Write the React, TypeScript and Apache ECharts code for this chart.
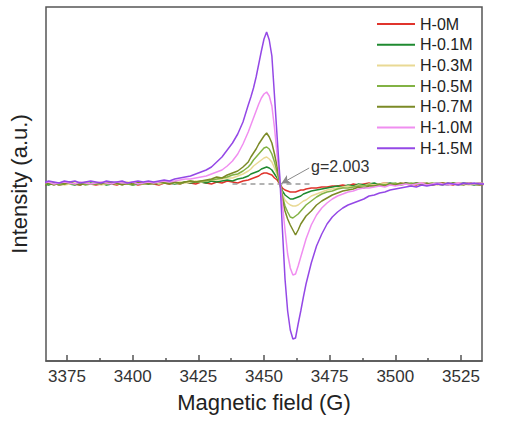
import React, { useEffect, useRef } from "react";
import * as echarts from "echarts";

// Magnetic field grid (G)
const field = [
  3366, 3368, 3370, 3372, 3374, 3376, 3378, 3380, 3382, 3384,
  3386, 3388, 3390, 3392, 3394, 3396, 3398, 3400, 3402, 3404,
  3406, 3408, 3410, 3412, 3414, 3416, 3418, 3420, 3422, 3424,
  3426, 3428, 3430, 3432, 3434, 3436, 3438, 3440, 3442, 3444,
  3445, 3446, 3447, 3448, 3449, 3450, 3451, 3452, 3453, 3454,
  3455, 3456, 3457, 3458, 3459, 3460, 3461, 3462, 3463, 3464,
  3465, 3466,
  3468, 3470, 3472, 3474, 3476, 3478, 3480, 3482, 3484, 3486,
  3488, 3490, 3492, 3494, 3496, 3498, 3500, 3502, 3504, 3506,
  3508, 3510, 3512, 3514, 3516, 3518, 3520, 3522, 3524, 3526,
  3528, 3530, 3532, 3534,
];

const h0M = [
  -1, 0, 1, -1, 0, 1, 0, -1, 1, 0,
  -1, 0, 1, 0, -1, 1, 0, 1, -1, 0,
  1, 0, -1, 1, 0, 1, 0, 2, 1, 0,
  2, 1, 0, 2, 1, 3, 2, 1, 3, 4,
  5, 6, 7, 8, 10, 11, 11, 10, 9, 6,
  4, 0, -4, -6, -7, -8, -8, -8, -7, -6,
  -6, -5,
  -4, -4, -3, -3, -2, -2, -1, -2, 0, -1,
  0, 1, -1, 0, 1, 0, -1, 0, 1, 0,
  -1, 1, 0, -1, 0, 1, 0, -1, 1, 0,
  1, 0, -1, 0,
];

const h01M = [
  0, -1, 1, 0, 1, 0, -1, 1, 0, 1,
  0, 1, -1, 0, 1, 0, 1, -1, 0, 1,
  0, 1, 0, 2, 1, 0, 1, 2, 1, 2,
  2, 1, 3, 2, 3, 4, 3, 5, 6, 8,
  10, 11, 12, 13, 15, 16, 17, 16, 14, 10,
  6, 1, -7, -11, -13, -15, -15, -14, -13, -12,
  -10, -9,
  -7, -6, -5, -4, -3, -2, -3, -1, -2, 0,
  -1, 0, 1, -1, 0, 1, 0, -1, 1, 0,
  1, 0, -1, 0, 1, 0, -1, 1, 0, 1,
  0, -1, 0, 0,
];

const h03M = [
  0, 1, 0, 1, -1, 0, 1, 0, 2, 0,
  1, -1, 0, 1, 0, 1, 2, 0, 1, 0,
  1, 2, 0, 1, 2, 1, 2, 1, 2, 3,
  2, 3, 4, 4, 5, 6, 6, 8, 10, 13,
  15, 18, 20, 22, 24, 26, 27, 25, 22, 16,
  9, 1, -10, -16, -19, -21, -22, -22, -21, -19,
  -17, -16,
  -12, -10, -8, -6, -5, -4, -3, -2, -3, -1,
  -2, 0, -1, 0, 1, -1, 0, 1, 0, -1,
  0, 1, 0, 1, -1, 0, 1, 0, 1, 0,
  -1, 0, 1, 0,
];

const h05M = [
  1, 0, 1, -1, 0, 1, 0, 1, -1, 0,
  0, 1, 0, 2, 0, 1, 0, -1, 1, 0,
  1, 0, 2, 1, 1, 2, 0, 2, 3, 2,
  3, 3, 4, 5, 6, 7, 9, 10, 13, 17,
  20, 24, 27, 30, 33, 36, 37, 35, 30, 22,
  12, 1, -12, -22, -28, -33, -34, -32, -30, -27,
  -24, -21,
  -17, -13, -10, -8, -7, -5, -4, -4, -3, -2,
  -2, -1, -2, 0, -1, 0, 1, -1, 0, 1,
  0, -1, 0, 1, 0, -1, 1, 0, -1, 0,
  1, 0, -1, 0,
];

const h07M = [
  0, 1, -1, 1, 0, 2, 0, -1, 1, 0,
  1, 0, 2, 0, 1, -1, 1, 0, 2, 1,
  0, 1, 2, 1, 0, 2, 1, 2, 3, 2,
  3, 4, 5, 7, 6, 9, 11, 13, 17, 22,
  27, 31, 35, 40, 44, 48, 51, 47, 41, 30,
  17, 2, -15, -27, -35, -41, -46, -51, -46, -40,
  -36, -32,
  -27, -21, -17, -14, -11, -9, -7, -6, -5, -3,
  -4, -2, -2, -1, -2, 0, -1, 1, 0, -1,
  1, 0, 1, -1, 0, 1, 0, 1, 0, -1,
  1, 0, 1, 0,
];

const h10M = [
  1, 2, 0, 1, 2, 1, 0, 2, 1, 0,
  1, 2, 1, 0, 2, 1, 1, 2, 0, 1,
  2, 1, 2, 3, 2, 3, 4, 5, 5, 6,
  7, 8, 10, 12, 14, 18, 23, 30, 40, 52,
  59, 66, 73, 80, 86, 90, 92, 88, 78, 56,
  29, 4, -20, -46, -70, -84, -91, -90, -82, -73,
  -64, -55,
  -41, -31, -24, -19, -15, -12, -10, -8, -7, -5,
  -4, -4, -3, -2, -3, -1, -2, -1, 0, -1,
  0, 1, -1, 0, 1, 0, -1, 0, 1, 0,
  1, 0, 1, 0,
];

const h15M = [
  1, 3, 2, 1, 3, 2, 3, 1, 2, 3,
  2, 1, 3, 2, 2, 3, 1, 2, 3, 2,
  3, 2, 3, 4, 3, 5, 6, 7, 8, 10,
  12, 14, 17, 22, 27, 34, 41, 50, 62, 79,
  87, 96, 107, 120, 133, 145, 152, 144, 128, 88,
  47, 8, -45, -95, -127, -146, -155, -154, -140, -127,
  -113, -100,
  -79, -62, -50, -40, -33, -28, -24, -21, -19, -17,
  -15, -12, -11, -9, -8, -6, -5, -4, -3, -2,
  -3, -1, -2, -1, 0, -1, 1, 0, -1, 1,
  0, 1, 0, 0,
];

const seriesNames = ["H-0M", "H-0.1M", "H-0.3M", "H-0.5M", "H-0.7M", "H-1.0M", "H-1.5M"];
const seriesValues = [h0M, h01M, h03M, h05M, h07M, h10M, h15M];
const seriesColors = ["#e0342c", "#1f8a30", "#e9d994", "#82b244", "#7b8a26", "#f08ef0", "#9448e6"];

const majorTicks = [3375, 3400, 3425, 3450, 3475, 3500, 3525];
const minorTicks = [3387.5, 3412.5, 3437.5, 3462.5, 3487.5, 3512.5];

// annotation (data coordinates)
const baselineDash = [[3438, 0], [3468, 0]];
const gArrow = [[3467.2, 16], [3456.6, 0.5]];
const gLabel = "g=2.003";

const FONT = "'Liberation Sans', Arial, sans-serif";

export default function App() {
  const ref = useRef<HTMLDivElement>(null);
  useEffect(() => {
    if (!ref.current) return;
    const chart = echarts.init(ref.current, undefined, { renderer: "svg" });
    const series: any[] = seriesNames.map((name, i) => ({
      name,
      type: "line",
      data: field.map((f, k) => [f, seriesValues[i][k]]),
      showSymbol: false,
      symbol: "none",
      color: seriesColors[i],
      lineStyle: { width: 1.5, color: seriesColors[i] },
      animation: false,
      z: 2 + i,
    }));
    series[0].markLine = {
      silent: true,
      animation: false,
      label: { show: false },
      emphasis: { disabled: true },
      data: [
        [
          { coord: baselineDash[0], symbol: "none", lineStyle: { type: [5, 4], color: "#9a9a9a", width: 1.5 } },
          { coord: baselineDash[1], symbol: "none" },
        ],
        [
          { coord: gArrow[0], symbol: "none", lineStyle: { type: "solid", color: "#8a8a8a", width: 1 } },
          { coord: gArrow[1], symbol: "arrow", symbolSize: [7, 9] },
        ],
      ],
    };
    chart.setOption({
      animation: false,
      textStyle: { fontFamily: FONT },
      grid: {
        left: 42,
        right: 24,
        top: 7,
        bottom: 63,
        show: true,
        borderColor: "#555",
        borderWidth: 1.5,
        backgroundColor: "transparent",
      },
      legend: {
        orient: "vertical",
        left: 377,
        top: 16,
        padding: 0,
        icon: "rect",
        itemWidth: 38,
        itemHeight: 2,
        itemGap: 4.7,
        selectedMode: false,
        textStyle: { fontSize: 16, color: "#222", lineHeight: 16, fontFamily: FONT },
        data: seriesNames,
      },
      xAxis: [
        {
          type: "value",
          min: 3367,
          max: 3533,
          name: "Magnetic field (G)",
          nameLocation: "middle",
          nameGap: 30,
          nameTextStyle: { fontSize: 22, color: "#222", fontFamily: FONT },
          axisLine: { show: true, onZero: false, lineStyle: { color: "#555", width: 1.5 } },
          axisTick: { show: true, inside: true, length: 6, customValues: majorTicks, lineStyle: { color: "#555", width: 1.5 } },
          axisLabel: {
            show: true,
            customValues: majorTicks,
            formatter: (v: number) => String(v),
            fontSize: 17,
            color: "#333",
            margin: 7,
            fontFamily: FONT,
          },
          splitLine: { show: false },
        },
        {
          type: "value",
          min: 3367,
          max: 3533,
          position: "bottom",
          axisLine: { show: false, onZero: false },
          axisTick: { show: true, inside: true, length: 3, customValues: minorTicks, lineStyle: { color: "#555", width: 1.5 } },
          axisLabel: { show: false },
          splitLine: { show: false },
        },
      ],
      yAxis: {
        type: "value",
        min: -177,
        max: 177,
        name: "Intensity (a.u.)",
        nameLocation: "middle",
        nameGap: 16,
        nameTextStyle: { fontSize: 22, color: "#222", fontFamily: FONT },
        axisLine: { show: false },
        axisTick: { show: false },
        axisLabel: { show: false },
        splitLine: { show: false },
      },
      graphic: [
        {
          type: "text",
          left: 311,
          top: 158,
          style: { text: gLabel, fontSize: 16, fill: "#333", fontFamily: FONT },
          z: 20,
        },
      ],
      series,
    });
    return () => chart.dispose();
  }, []);
  return (
    <div
      ref={ref}
      style={{ position: "fixed", left: 0, top: 0, width: 506, height: 424, background: "#fff" }}
    />
  );
}
